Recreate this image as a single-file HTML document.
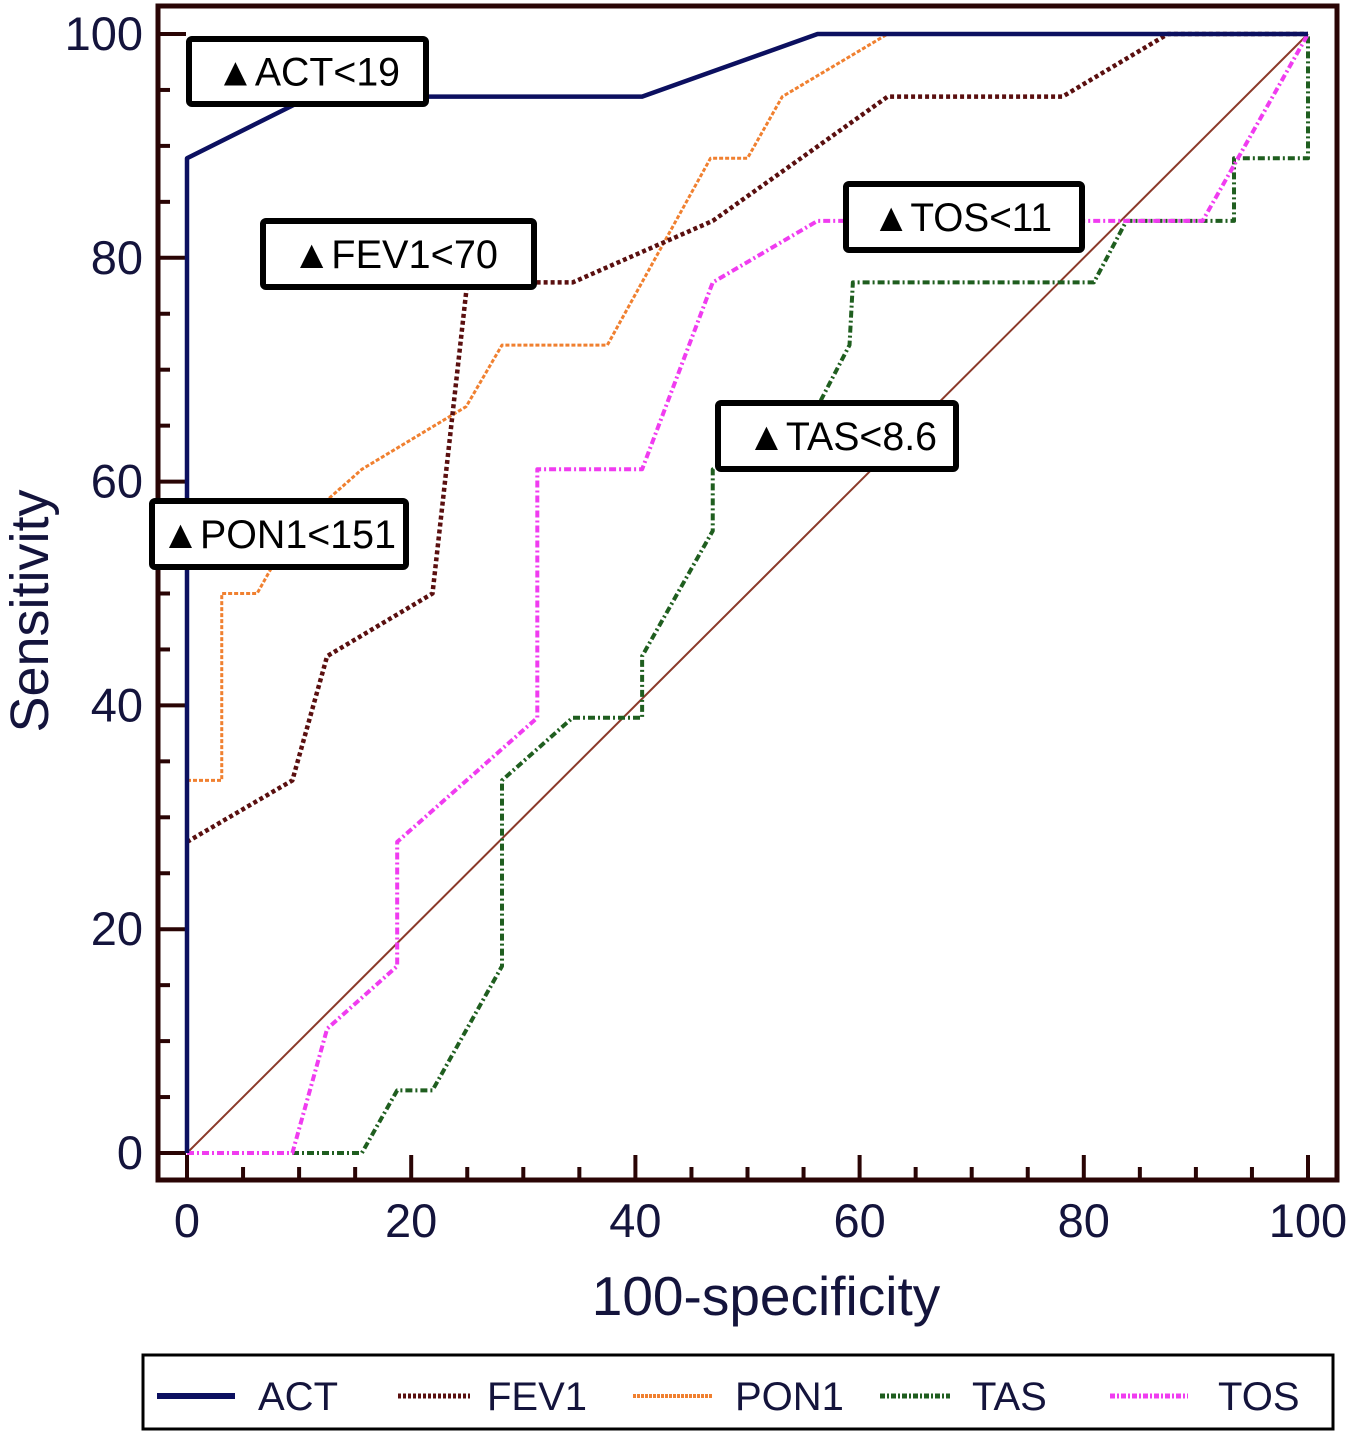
<!DOCTYPE html>
<html><head><meta charset="utf-8"><style>
html,body{margin:0;padding:0;background:#fff;}
svg{display:block;font-family:"Liberation Sans",Arial,sans-serif;}
</style></head><body>
<svg id="chart" width="1349" height="1432" viewBox="0 0 1349 1432" xmlns="http://www.w3.org/2000/svg">
<g id="plot"></g>
</svg>
<script>
const xTicks=[0,20,40,60,80,100];
const yTicks=[0,20,40,60,80,100];
const actX=[0,0,11,40.6,56.25,100];
const actY=[0,88.9,94.4,94.4,100,100];
const fevX=[0,9.4,12.5,21.9,25,34.4,46.9,62.5,78.1,87.5,100];
const fevY=[27.8,33.3,44.4,50,77.8,77.8,83.3,94.4,94.4,100,100];
const ponX=[0,3.1,3.1,6.25,9.4,15.6,24.9,28.1,37.5,46.7,50,53.1,62.5,100];
const ponY=[33.3,33.3,50,50,55.6,61.1,66.7,72.2,72.2,88.9,88.9,94.4,100,100];
const tasX=[0,15.6,18.75,21.9,28.1,28.1,34.4,40.6,40.6,46.9,46.9,56.25,59.1,59.4,80.9,83.8,93.4,93.4,100,100];
const tasY=[0,0,5.6,5.6,16.7,33.3,38.9,38.9,44.4,55.6,61.1,66.7,72.2,77.8,77.8,83.3,83.3,88.9,88.9,100];
const tosX=[0,9.4,12.5,18.75,18.75,31.25,31.25,40.6,46.9,56.25,90.6,100];
const tosY=[0,0,11.1,16.7,27.8,38.9,61.1,61.1,77.8,83.3,83.3,100];
const refX=[0,100];
const refY=[0,100];

const NS='http://www.w3.org/2000/svg';
const g=document.getElementById('plot');
const sx=v=>187+v*11.21;
const sy=v=>1153-v*11.19;
function mk(tag,attrs,parent){const e=document.createElementNS(NS,tag);for(const k in attrs)e.setAttribute(k,attrs[k]);(parent||g).appendChild(e);return e;}

const frame=mk('rect',{x:158,y:6,width:1179,height:1174,fill:'none',stroke:'#2a0505','stroke-width':5});


for(let v=0;v<=100;v+=5){
  const major=v%20===0;
  const t=mk('line',{x1:sx(v),x2:sx(v),y1:1180,y2:major?1155:1167,stroke:'#2a0505','stroke-width':4});
  
  
  const u=mk('line',{x1:158,x2:major?186:170,y1:sy(v),y2:sy(v),stroke:'#2a0505','stroke-width':4});
  
  
}
xTicks.forEach(v=>{const t=mk('text',{x:sx(v),y:1237,'text-anchor':'middle','font-size':47,fill:'#14143c'});t.textContent=v;

});
yTicks.forEach(v=>{const t=mk('text',{x:143,y:sy(v)+16,'text-anchor':'end','font-size':47,fill:'#14143c'});t.textContent=v;

});
const xt=mk('text',{x:766,y:1315,'text-anchor':'middle','font-size':55,fill:'#14143c'});xt.textContent='100-specificity';


const yt=mk('text',{x:0,y:0,'text-anchor':'middle','font-size':54,fill:'#14143c',transform:'translate(48,611) rotate(-90)'});yt.textContent='Sensitivity';



function series(xs,ys,color,w,dash,name){
  const pts=xs.map((x,i)=>sx(x)+','+sy(ys[i])).join(' ');
  const p=mk('polyline',{points:pts,fill:'none',stroke:color,'stroke-width':w,'stroke-dasharray':dash,'stroke-linejoin':'round'});
  
  
}
series(refX,refY,'#8b3a2a',2,'none','reference-diagonal');
series(tasX,tasY,'#1f5e1f',4,'7 3 2 3','tas-curve');
series(tosX,tosY,'#f03cf0',4,'7 3 2 3','tos-curve');
series(ponX,ponY,'#f08030',3,'4 2','pon1-curve');
series(fevX,fevY,'#5a0f0f',4.5,'4 3','fev1-curve');
series(actX,actY,'#0c1060',4.5,'none','act-curve');

function box(x,y,w,h,txt,name,tx,tl){
  const r=mk('rect',{x:x,y:y,width:w,height:h,fill:'#fff',stroke:'#000','stroke-width':6,rx:3});
  
  
  const t=mk('text',{x:tx,y:y+h/2+14,'font-size':40,fill:'#000',textLength:tl,lengthAdjust:'spacingAndGlyphs'});t.textContent='▲'+txt;
  
  
}
box(189,39,237,65,'ACT<19','act-cutoff',216,184);
box(263,221,271,66,'FEV1<70','fev1-cutoff',292,206);
box(152,501,254,66,'PON1<151','pon1-cutoff',161,235);
box(846,184,236,66,'TOS<11','tos-cutoff',872,180);
box(718,403,238,66,'TAS<8.6','tas-cutoff',747,190);

const lg=mk('rect',{x:143,y:1355,width:1190,height:74,fill:'#fff',stroke:'#000','stroke-width':3});


const leg=[['ACT','#0c1060',6,'none',157,235,258],['FEV1','#5a0f0f',5,'3 2',398,470,487],['PON1','#f08030',4,'3 1',633,712,735],['TAS','#1f5e1f',5,'5 2 2 2',880,950,972],['TOS','#f03cf0',5,'5 2 2 2',1110,1188,1218]];
leg.forEach(e=>{
  const l=mk('line',{x1:e[4],x2:e[5],y1:1396,y2:1396,stroke:e[1],'stroke-width':e[2],'stroke-dasharray':e[3]});
  
  
  const t=mk('text',{x:e[6],y:1410,'font-size':40,fill:'#14143c'});t.textContent=e[0];
  
  
});
</script>
</body></html>
